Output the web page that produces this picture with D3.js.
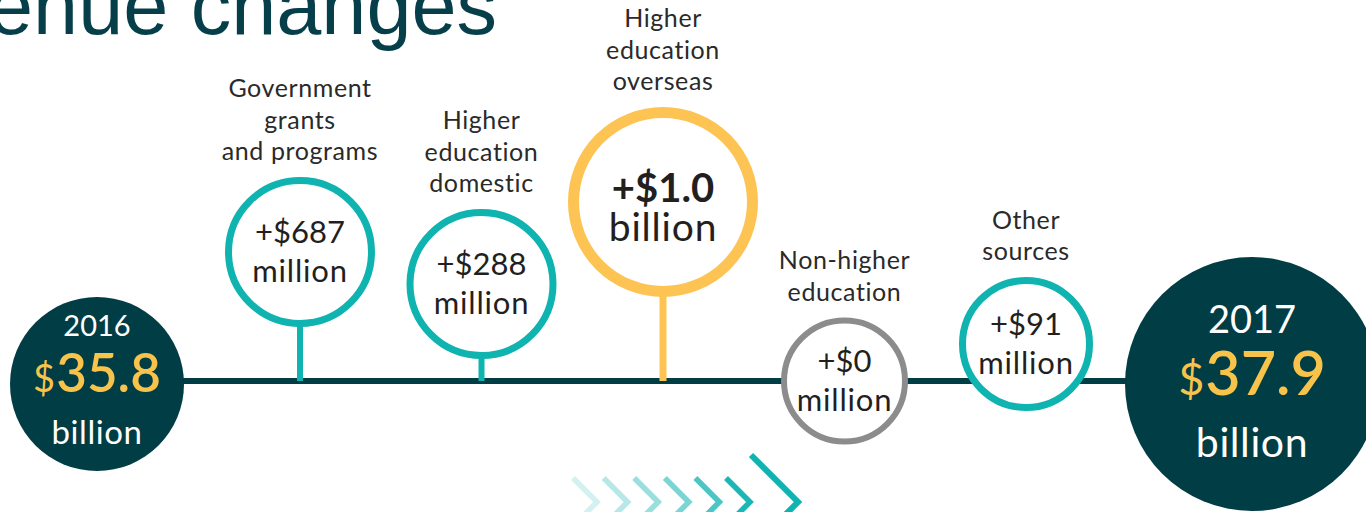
<!DOCTYPE html>
<html>
<head>
<meta charset="utf-8">
<script src="https://cdn.jsdelivr.net/npm/d3@7"></script>
<style>
  body { margin: 0; background: #fff; }
  svg { display: block; }
</style>
</head>
<body>
<div class="chart"></div>
<script>
// revenue change, 2016 -> 2017
const categories = ["Government grants and programs", "Higher education domestic",
                    "Higher education overseas", "Non-higher education", "Other sources"];
const labelLines = [["Government", "grants", "and programs"],
                    ["Higher", "education", "domestic"],
                    ["Higher", "education", "overseas"],
                    ["Non-higher", "education"],
                    ["Other", "sources"]];
const changes = [687, 288, 1000, 0, 91];   // $ million
const years = ["2016", "2017"];
const totals = [35.8, 37.9];               // $ billion
const chevronShades = [0.18, 0.3, 0.42, 0.55, 0.75, 0.95];

const width = 1366, height = 512;
const lineY = 381;

const teal = "#0fb3b0", gold = "#fdc453", grey = "#8c8c8c", dark = "#013d45";
const inkText = "#231f20";
const font = "Lato, 'Open Sans', sans-serif";

let svg = d3.select(".chart").append("svg")
            .attr("width", width)
            .attr("height", height);

let x = d3.scalePoint().domain(categories).range([300, 1026]);
// how far each bubble floats above the timeline
let lift = d3.scaleLinear().domain([0, 91, 288, 687, 1000]).range([0, 37, 97, 129, 179]);
let radius = d3.scaleThreshold().domain([50, 200, 900]).range([63.5, 67, 75, 95]);
let totalX = d3.scalePoint().domain(years).range([97, 1252]);
let totalR = d3.scaleLinear().domain(d3.extent(totals)).range([87, 127]);

let maxChange = d3.max(changes);
let kind = (v) => v === 0 ? "zero" : (v === maxChange ? "top" : "normal");
let colour = {zero: grey, top: gold, normal: teal};
let strokeW = {zero: 6, top: 11, normal: 7};
let stemW = {zero: 6, top: 7, normal: 6};

let items = categories.map((c, i) => ({
  name: c,
  lines: labelLines[i],
  value: changes[i],
  kind: kind(changes[i]),
  cx: x(c),
  cy: lineY - lift(changes[i]),
  r: radius(changes[i])
}));

// title, cut off by the slide edge
svg.append("text")
    .attr("x", 497)
    .attr("y", 34)
    .attr("text-anchor", "end")
    .style("font-family", "'Liberation Sans', Arial, sans-serif")
    .style("font-size", "81px")
    .style("fill", "#063f4a")
    .text("Revenue changes");

// timeline
svg.append("line")
    .attr("x1", totalX(years[0]))
    .attr("x2", totalX(years[1]))
    .attr("y1", lineY)
    .attr("y2", lineY)
    .style("stroke", dark)
    .style("stroke-width", 6);

// stems
svg.selectAll(".stem")
  .data(items.filter((d) => d.cy + d.r < lineY))
  .enter().append("line")
    .attr("class", "stem")
    .attr("x1", (d) => d.cx)
    .attr("x2", (d) => d.cx)
    .attr("y1", (d) => d.cy + d.r - 2)
    .attr("y2", lineY)
    .style("stroke", (d) => colour[d.kind])
    .style("stroke-width", (d) => stemW[d.kind]);

let bubble = svg.selectAll(".bubble")
  .data(items)
  .enter().append("g")
    .attr("class", "bubble")
    .attr("transform", (d) => "translate(" + d.cx + "," + d.cy + ")");

bubble.append("circle")
    .attr("r", (d) => d.r - strokeW[d.kind] / 2)
    .style("fill", "#fff")
    .style("stroke", (d) => colour[d.kind])
    .style("stroke-width", (d) => strokeW[d.kind]);

let amount = (v) => v >= 1000 ? "+$" + d3.format(".1f")(v / 1000) : "+$" + v;
let unit = (v) => v >= 1000 ? "billion" : "million";

bubble.append("text")
    .attr("text-anchor", "middle")
    .attr("y", (d) => d.kind === "top" ? 0 : -9)
    .style("font-family", font)
    .style("font-size", (d) => d.kind === "top" ? "40px" : "31px")
    .style("font-weight", (d) => d.kind === "top" ? 700 : 400)
    .style("fill", inkText)
    .text((d) => amount(d.value));

bubble.append("text")
    .attr("text-anchor", "middle")
    .attr("y", (d) => d.kind === "top" ? 39 : 30)
    .style("font-family", font)
    .style("font-size", (d) => d.kind === "top" ? "39px" : "31px")
    .style("letter-spacing", "0.8px")
    .style("fill", inkText)
    .text((d) => unit(d.value));

// category labels stacked above each bubble
bubble.each(function(d) {
  let g = d3.select(this);
  let n = d.lines.length;
  d.lines.forEach((t, j) => {
    g.append("text")
        .attr("text-anchor", "middle")
        .attr("y", -d.r - 17 - (n - 1 - j) * 31.5)
        .style("font-family", font)
        .style("font-size", "25px")
        .style("letter-spacing", "0.6px")
        .style("fill", "#2a2a2a")
        .text(t);
  });
});

// start and end totals
let big = svg.selectAll(".total")
  .data(years.map((y, i) => ({year: y, value: totals[i], i: i})))
  .enter().append("g")
    .attr("class", "total")
    .attr("transform", (d) => "translate(" + totalX(d.year) + "," + (lineY + 3) + ")");

big.append("circle")
    .attr("r", (d) => totalR(d.value))
    .style("fill", dark);

let sz = [{year: 29, dollar: 38, num: 53, unit: 33, y0: -48, y1: 8, y2: 60},
          {year: 38, dollar: 45, num: 61, unit: 41, y0: -51, y1: 11, y2: 73}];

big.append("text")
    .attr("text-anchor", "middle")
    .attr("y", (d) => sz[d.i].y0)
    .style("font-family", font)
    .style("font-size", (d) => sz[d.i].year + "px")
    .style("fill", "#fff")
    .text((d) => d.year);

let money = big.append("text")
    .attr("text-anchor", "middle")
    .attr("y", (d) => sz[d.i].y1)
    .style("font-family", font)
    .style("font-weight", 600)
    .style("fill", "#f8c34b");
money.append("tspan")
    .style("font-size", (d) => sz[d.i].dollar + "px")
    .style("font-weight", 400)
    .text("$");
money.append("tspan")
    .attr("dx", 1)
    .style("font-size", (d) => sz[d.i].num + "px")
    .text((d) => d3.format(".1f")(d.value));

big.append("text")
    .attr("text-anchor", "middle")
    .attr("y", (d) => sz[d.i].y2)
    .style("font-family", font)
    .style("font-size", (d) => sz[d.i].unit + "px")
    .style("letter-spacing", "0.6px")
    .style("fill", "#fff")
    .text("billion");

// direction arrows at the bottom
let cx = d3.scaleLinear().domain([0, chevronShades.length - 1]).range([597, 750]);
let tipY = 502;
let chevron = (tx, s) => "M" + (tx - s) + "," + (tipY - s) + "L" + tx + "," + tipY + "L" + (tx - s) + "," + (tipY + s);

svg.selectAll(".chev")
  .data(chevronShades)
  .enter().append("path")
    .attr("class", "chev")
    .attr("d", (d, i) => chevron(cx(i), 24))
    .style("fill", "none")
    .style("stroke", teal)
    .style("stroke-opacity", (d) => d)
    .style("stroke-width", 5.5);

svg.append("path")
    .attr("d", chevron(cx(chevronShades.length - 1) + 48, 47))
    .style("fill", "none")
    .style("stroke", teal)
    .style("stroke-width", 6);
</script>
</body>
</html>
